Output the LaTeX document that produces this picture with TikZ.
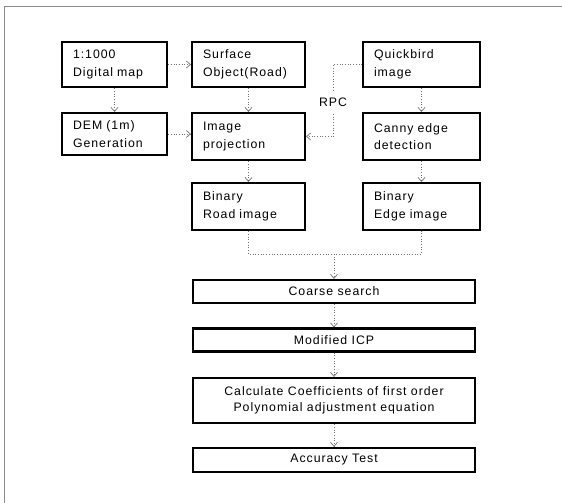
\documentclass[tikz,border=0pt]{standalone}
\usepackage{fontspec}
\setmainfont[LetterSpace=8]{Liberation Sans}
\usetikzlibrary{arrows.meta}
\begin{document}
\begin{tikzpicture}[x=1pt,y=-1pt,
  txt/.style={font=\fontsize{12.3}{17.5}\selectfont},
  box/.style={draw=black,line width=2.2pt,minimum width=#1,minimum height=45pt,inner sep=0pt,txt},
  lbox/.style={box=#1,align=left,text width=#1-22pt},
  wbox/.style={draw=black,line width=2.2pt,minimum width=282pt,minimum height=23pt,inner sep=0pt,align=center,txt},
  conn/.style={draw=black!55,dotted,line width=0.7pt},
  arr/.style={conn,-{Straight Barb[length=4pt,width=7pt]}},
]
\useasboundingbox (0,0) rectangle (562,503);
\draw[black!45,line width=0.5pt] (4,503) -- (4,6) -- (562,6);
% top row
\node[lbox=105pt] (map) at (114.5,64.5) {1:1000\\Digital map};
\node[lbox=113pt] (surf) at (248.5,64.5) {Surface\\Object(Road)};
\node[lbox=117pt] (quick) at (421.5,64.5) {Quickbird\\image};
% second row
\node[lbox=105pt,minimum height=42pt] (dem) at (114.5,134) {DEM (1m)\\Generation};
\node[lbox=113pt,minimum height=47pt] (proj) at (248.5,136.5) {Image\\projection};
\node[lbox=117pt,minimum height=47pt] (canny) at (421.5,136.5) {Canny edge\\detection};
% third row
\node[lbox=113pt,minimum height=47pt] (road) at (248.5,206.5) {Binary\\Road image};
\node[lbox=117pt,minimum height=47pt] (edge) at (421.5,206.5) {Binary\\Edge image};
% bottom column
\node[wbox] (coarse) at (334,291.5) {Coarse search};
\node[wbox] (icp) at (334,340) {Modified ICP};
\node[wbox,minimum height=45pt,font=\fontsize{12.3}{16}\selectfont] (calc) at (334,400.5) {Calculate Coefficients of first order\\Polynomial adjustment equation};
\node[wbox,minimum height=24pt] (acc) at (334,460) {Accuracy Test};
% connectors
\draw[arr] (map.east) -- (surf.west);
\draw[arr] (map.south) -- (dem.north);
\draw[arr] (dem.east) -- (dem.east -| proj.west);
\draw[arr] (surf.south) -- (proj.north);
\draw[arr] (proj.south) -- (road.north);
\draw[arr] (quick.south) -- (canny.north);
\draw[arr] (canny.south) -- (edge.north);
% RPC
\coordinate (r1) at (333,90);
\coordinate (r2) at (333,114);
\node[txt] (rpc) at (333,102) {RPC};
\draw[conn] (quick.west) -| (r1);
\draw[arr] (r2) |- (proj.east);
% merge
\coordinate (m) at (334,254);
\draw[conn] (road.south) |- (m) -| (edge.south);
\draw[arr] (m) -- (coarse.north);
\draw[arr] (coarse.south) -- (icp.north);
\draw[arr] (icp.south) -- (calc.north);
\draw[arr] (calc.south) -- (acc.north);
\end{tikzpicture}
\end{document}
